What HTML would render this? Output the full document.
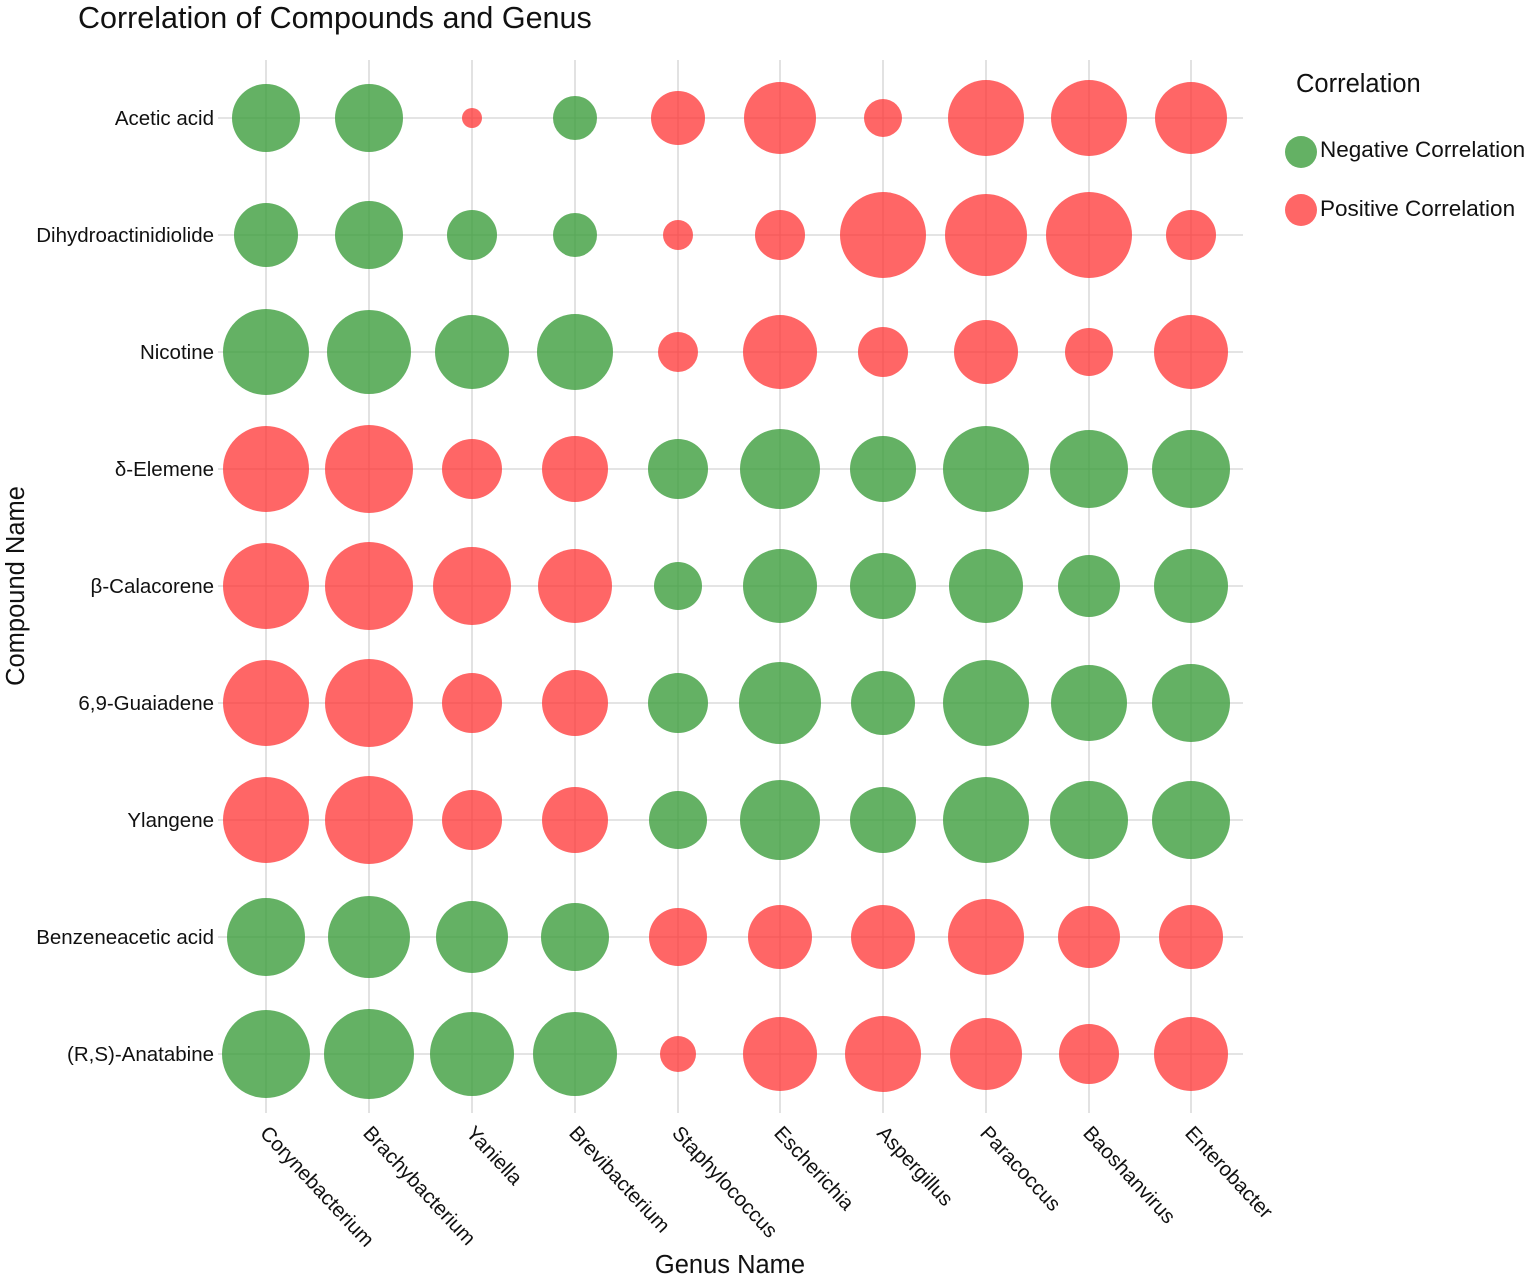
<!DOCTYPE html>
<html><head><meta charset="utf-8"><style>body{margin:0;background:#fff}svg{display:block}text{font-family:"Liberation Sans",Arial,sans-serif;fill:#111}</style></head><body>
<svg width="1535" height="1278" viewBox="0 0 1535 1278" xmlns="http://www.w3.org/2000/svg">
<text x="78" y="28" font-size="30.5">Correlation of Compounds and Genus</text>
<g id="grid" stroke="#d3d3d3" stroke-width="1.3"></g>
<g id="dots"></g>
<g id="labs" font-size="20.5"></g>
<text x="730" y="1273" font-size="25.5" text-anchor="middle">Genus Name</text>
<text transform="translate(24,586) rotate(-90)" font-size="25.5" text-anchor="middle">Compound Name</text>
<text x="1296" y="92" font-size="25.5">Correlation</text>
<circle cx="1301" cy="152" r="16" fill="#3d9e3d" fill-opacity="0.8"/>
<text x="1320" y="157" font-size="22.5">Negative Correlation</text>
<circle cx="1301" cy="210" r="16" fill="#ff3333" fill-opacity="0.75"/>
<text x="1320" y="216" font-size="22.5">Positive Correlation</text>
<script>
const X=[266,369,472,575,678,780,883,986,1089,1191];
const Y=[118,235,352,469,586,703,820,937,1054];
const rows=["Acetic acid","Dihydroactinidiolide","Nicotine","δ-Elemene","β-Calacorene","6,9-Guaiadene","Ylangene","Benzeneacetic acid","(R,S)-Anatabine"];
const cols=["Corynebacterium","Brachybacterium","Yaniella","Brevibacterium","Staphylococcus","Escherichia","Aspergillus","Paracoccus","Baoshanvirus","Enterobacter"];
const D=[
"G34 G34 R10 G22 R27 R36 R19 R38 R38 R36",
"G32 G34 G25 G22 R15 R25 R43 R41 R43 R25",
"G43 G42 G37 G38 R20 R37 R25 R32 R24 R37",
"R43 R44 R30 R33 G30 G40 G33 G43 G39 G39",
"R43 R44 R39 R37 G24 G37 G33 G37 G31 G37",
"R43 R44 R30 R33 G30 G41 G32 G43 G38 G39",
"R43 R44 R30 R33 G29 G40 G33 G43 G39 G39",
"G39 G41 G36 G34 R29 R32 R32 R38 R31 R32",
"G44 G45 G42 G42 R18 R37 R38 R36 R30 R37"];
const ns="http://www.w3.org/2000/svg";
function el(p,t,a,txt){const e=document.createElementNS(ns,t);for(const k in a)e.setAttribute(k,a[k]);if(txt)e.textContent=txt;p.appendChild(e);}
const g=document.getElementById("grid"),d=document.getElementById("dots"),l=document.getElementById("labs");
Y.forEach((y,i)=>{el(g,"line",{x1:218,x2:1243,y1:y,y2:y});el(l,"text",{x:214,y:y+7,"text-anchor":"end"},rows[i]);});
X.forEach((x,j)=>{el(g,"line",{x1:x,x2:x,y1:60,y2:1113});el(l,"text",{transform:`translate(${x-7},${1134}) rotate(47)`},cols[j]);});
D.forEach((r,i)=>r.split(" ").forEach((s,j)=>{const G=s[0]=="G";el(d,"circle",{cx:X[j],cy:Y[i],r:+s.slice(1),fill:G?"#3d9e3d":"#ff3333","fill-opacity":G?0.8:0.75});}));
</script>
</svg></body></html>
